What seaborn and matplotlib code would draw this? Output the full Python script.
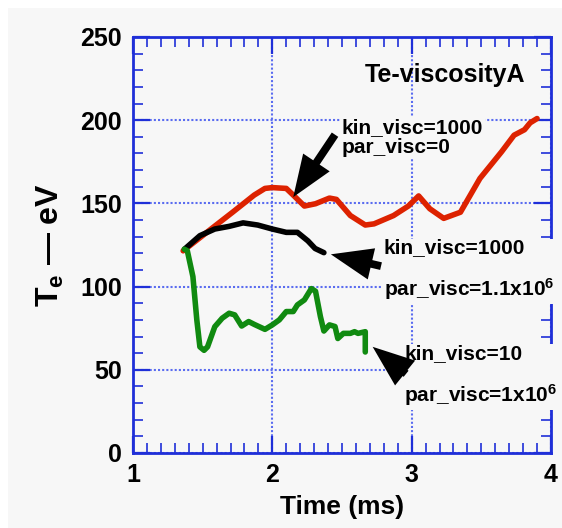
import matplotlib
matplotlib.use("Agg")
import matplotlib.pyplot as plt
from matplotlib.patches import Rectangle
from matplotlib.ticker import MultipleLocator
import seaborn as sns

# ---- data ----
red_t = [1.36, 1.56, 1.715, 1.87, 1.947, 2.0, 2.10, 2.15, 2.23, 2.31, 2.41, 2.46, 2.56,
         2.667, 2.73, 2.87, 2.976, 3.05, 3.13, 3.23, 3.35, 3.49, 3.645, 3.735, 3.81, 3.85, 3.90]
red_te = [121.5, 134.6, 144.7, 155.0, 159.0, 159.5, 159.0, 155.0, 148.4, 149.8, 153.2, 152.4, 142.7,
          137.0, 137.7, 142.7, 148.4, 154.5, 146.8, 141.0, 144.7, 165.0, 181.0, 191.0, 194.3, 198.4, 201.0]

black_t = [1.37, 1.48, 1.587, 1.69, 1.79, 1.895, 2.0, 2.10, 2.18, 2.255, 2.307, 2.37]
black_te = [122.5, 130.6, 134.6, 136.2, 138.3, 137.0, 134.6, 132.6, 132.6, 127.5, 122.9, 120.4]

green_t = [1.368, 1.39, 1.43, 1.458, 1.48, 1.51, 1.535, 1.587, 1.64, 1.69, 1.73, 1.78, 1.83,
           1.87, 1.947, 2.0, 2.05, 2.10, 2.15, 2.18, 2.23, 2.28, 2.31, 2.345, 2.37, 2.41, 2.45,
           2.47, 2.51, 2.56, 2.59, 2.615, 2.667, 2.667]
green_te = [122.5, 121.5, 106.0, 80.0, 63.8, 61.7, 63.8, 75.9, 81.0, 84.0, 83.0, 76.3, 79.0,
            77.3, 74.3, 77.0, 80.0, 85.0, 85.0, 89.0, 92.0, 98.8, 97.2, 82.0, 73.3, 77.0, 76.0,
            68.8, 71.9, 71.9, 72.9, 71.9, 72.9, 60.7]

labels = ["kin_visc=1000\npar_visc=0",
          "kin_visc=1000\npar_visc=1.1x10$^{6}$",
          "kin_visc=10\npar_visc=1x10$^{6}$"]
label_pos = [(2.50, 189.8), (2.80, 109.9), (2.945, 46.25)]
label_spacing = [1.05, 2.0, 2.0]
arrow_head = [(2.15, 153.8), (2.42, 119.4), (2.72, 63.8)]
arrow_tail = [(2.45, 191.3), (2.78, 112.3), (2.96, 47.6)]

x_ticks = [1, 2, 3, 4]
y_ticks = [0, 50, 100, 150, 200, 250]

# ---- style ----
sns.set_theme(style="ticks")
BG = "#f7f7f7"
BLUE = "#1f2fd8"
plt.rcParams["font.family"] = ["Liberation Sans", "DejaVu Sans"]
plt.rcParams["font.weight"] = "bold"
plt.rcParams["text.color"] = "black"
plt.rcParams["axes.labelcolor"] = "black"
plt.rcParams["xtick.labelcolor"] = "black"
plt.rcParams["ytick.labelcolor"] = "black"
plt.rcParams["mathtext.fontset"] = "custom"
plt.rcParams["mathtext.rm"] = "Liberation Sans:bold"
plt.rcParams["mathtext.it"] = "Liberation Sans:bold"
plt.rcParams["mathtext.bf"] = "Liberation Sans:bold"
plt.rcParams["mathtext.sf"] = "Liberation Sans:bold"

fig = plt.figure(figsize=(5.62, 5.28), dpi=100, facecolor="white")
fig.patches.append(Rectangle((8 / 562, 0), 1 - 8 / 562, 1 - 8 / 528, transform=fig.transFigure,
                             facecolor=BG, edgecolor="none", zorder=-10))
ax = fig.add_axes([133 / 562, 1 - 453 / 528, (551 - 133) / 562, (453 - 37) / 528])
ax.set_facecolor(BG)

LW = 4.0
sns.lineplot(x=red_t, y=red_te, ax=ax, color="#dd2200", lw=LW, sort=False, estimator=None, zorder=3)
sns.lineplot(x=black_t, y=black_te, ax=ax, color="black", lw=LW, sort=False, estimator=None, zorder=3)
sns.lineplot(x=green_t, y=green_te, ax=ax, color="#108a10", lw=LW, sort=False, estimator=None, zorder=3)

ax.set_xlim(1, 4)
ax.set_ylim(0, 250)
ax.set_xticks(x_ticks)
ax.set_yticks(y_ticks)
ax.xaxis.set_minor_locator(MultipleLocator(0.1))
ax.yaxis.set_minor_locator(MultipleLocator(10))
ax.tick_params(which="both", direction="in", top=True, right=True, color=BLUE)
ax.tick_params(which="major", length=12, width=1.6, labelsize=18, pad=7, labelcolor="black")
ax.tick_params(which="minor", length=7, width=1.2)
ax.tick_params(axis="y", which="major", pad=8)
for lab in ax.get_xticklabels() + ax.get_yticklabels():
    lab.set_fontweight("bold")
    lab.set_color("black")
for s in ax.spines.values():
    s.set_color(BLUE)
    s.set_linewidth(2)
ax.grid(True, which="major", color="#5a6cf0", linestyle=(0, (1, 1)), lw=1.5)
ax.set_axisbelow(True)

ax.set_xlabel("Time (ms)", fontsize=19, fontweight="bold", labelpad=6, color="black")
ax.set_ylabel("T$_{e}$ — eV", fontsize=23, fontweight="bold", labelpad=10, color="black")

ax.text(3.814, 227.3, "Te-viscosityA", ha="right", va="center", fontsize=18,
        fontweight="bold", color="black")

for txt, (x, y), ls in zip(labels, label_pos, label_spacing):
    ax.text(x, y, txt, ha="left", va="center", fontsize=15, fontweight="bold", color="black",
            linespacing=ls, zorder=6, clip_on=False,
            bbox=dict(facecolor=BG, edgecolor="none", pad=1))

for h, t in zip(arrow_head, arrow_tail):
    ax.annotate("", xy=h, xytext=t, zorder=7,
                arrowprops=dict(arrowstyle="simple,head_length=1.5,head_width=1.15,tail_width=0.28",
                                color="black", shrinkA=0, shrinkB=0, mutation_scale=20, lw=0))

fig.savefig("out.png", dpi=100, facecolor=fig.get_facecolor())
